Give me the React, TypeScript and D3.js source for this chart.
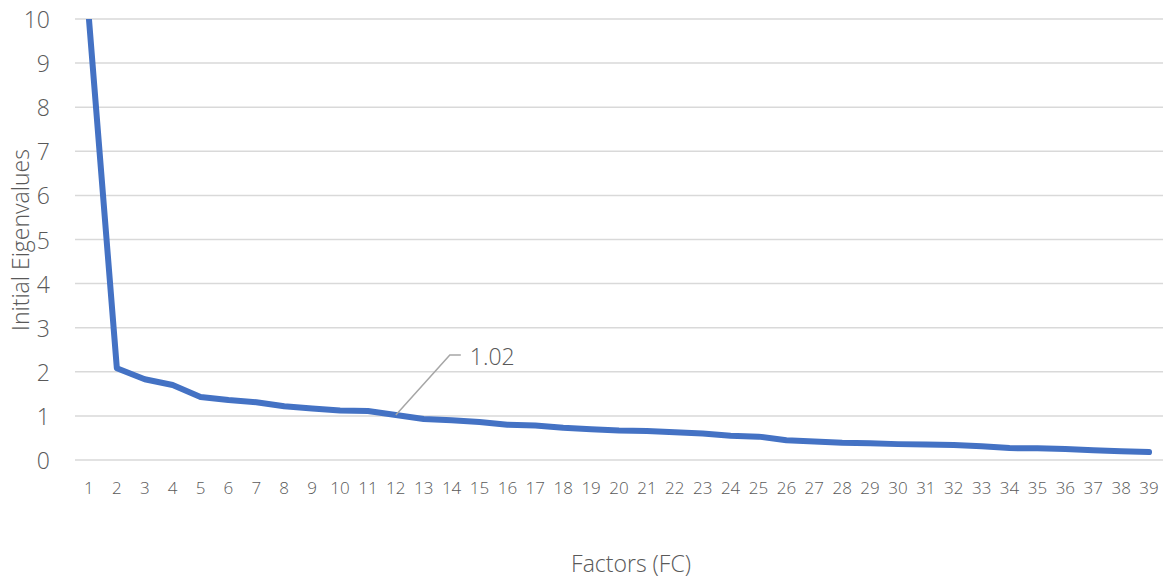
import React from "react";
import * as d3 from "d3";

const factors: string[] = Array.from({ length: 39 }, (_, i) => String(i + 1));
const eigenvalues: number[] = [
  10.0, 2.08, 1.83, 1.7, 1.43, 1.36, 1.31, 1.22, 1.17, 1.12,
  1.11, 1.02, 0.93, 0.9, 0.86, 0.8, 0.78, 0.73, 0.7, 0.67,
  0.66, 0.63, 0.6, 0.55, 0.53, 0.45, 0.42, 0.39, 0.38, 0.36,
  0.35, 0.34, 0.31, 0.27, 0.265, 0.25, 0.22, 0.2, 0.18,
];
const yTicks: number[] = [0, 1, 2, 3, 4, 5, 6, 7, 8, 9, 10];
const annotationIndex = 11;
const annotationLabel = "1.02";

const W = 1163;
const H = 578;
const FONT = "'Open Sans', 'Segoe UI', sans-serif";
const TXT = "#595959";

export default function App() {
  const left = 75;
  const right = 1163;
  const top = 19;
  const bottom = 460;

  const x = d3.scaleBand<string>().domain(factors).range([left, right]).padding(0);
  const y = d3.scaleLinear().domain([0, 10]).range([bottom, top]);
  const cx = (i: number) => (x(factors[i]) as number) + x.bandwidth() / 2;

  const line = d3
    .line<number>()
    .x((_, i) => cx(i))
    .y((d) => y(d));

  const ax = cx(annotationIndex);
  const ay = y(eigenvalues[annotationIndex]);

  return (
    <svg width={W} height={H} style={{ position: "absolute", left: 0, top: 0, background: "#fff" }}>
      <defs>
        <clipPath id="plotclip">
          <rect x={left - 10} y={top} width={right - left + 20} height={bottom - top + 20} />
        </clipPath>
      </defs>
      {yTicks.map((t) => (
        <g key={t}>
          <line x1={left} x2={right} y1={y(t)} y2={y(t)} stroke="#d9d9d9" strokeWidth={1.5} />
          <text
            x={50}
            y={y(t)}
            textAnchor="end"
            dominantBaseline="central"
            fontFamily={FONT}
            fontWeight={300}
            fontSize={23}
            fill={TXT}
          >
            {t}
          </text>
        </g>
      ))}
      {factors.map((f, i) => (
        <text
          key={f}
          x={cx(i)}
          y={494}
          textAnchor="middle"
          fontFamily={FONT}
          fontWeight={300}
          fontSize={17}
          fill={TXT}
        >
          {f}
        </text>
      ))}
      <path
        d={line(eigenvalues) as string}
        fill="none"
        stroke="#4472C4"
        strokeWidth={6}
        strokeLinejoin="round"
        strokeLinecap="round"
        clipPath="url(#plotclip)"
      />
      <polyline
        points={`${ax},${ay} ${ax + 54},${ay - 60} ${ax + 65},${ay - 60}`}
        fill="none"
        stroke="#a6a6a6"
        strokeWidth={1.5}
      />
      <text
        x={ax + 74}
        y={ay - 59}
        dominantBaseline="central"
        fontFamily={FONT}
        fontWeight={300}
        fontSize={23}
        fill={TXT}
      >
        {annotationLabel}
      </text>
      <text
        x={631}
        y={563}
        textAnchor="middle"
        dominantBaseline="central"
        fontFamily={FONT}
        fontWeight={300}
        fontSize={23}
        fill={TXT}
      >
        Factors (FC)
      </text>
      <text
        transform={`translate(20, 240) rotate(-90)`}
        textAnchor="middle"
        dominantBaseline="central"
        fontFamily={FONT}
        fontWeight={300}
        fontSize={23}
        fill={TXT}
      >
        Initial Eigenvalues
      </text>
    </svg>
  );
}
